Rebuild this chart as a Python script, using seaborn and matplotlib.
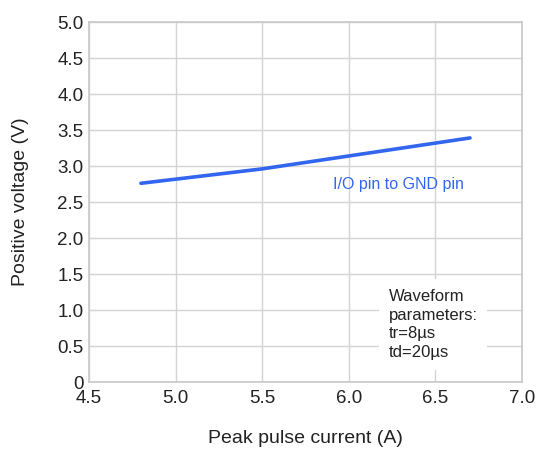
import matplotlib
matplotlib.use("Agg")
import matplotlib.pyplot as plt
import seaborn as sns
import pandas as pd

# values
current_a = [4.8, 5.5, 6.7]
voltage_v = [2.76, 2.96, 3.39]
x_ticks = [4.5, 5.0, 5.5, 6.0, 6.5, 7.0]
y_ticks = [0, 0.5, 1.0, 1.5, 2.0, 2.5, 3.0, 3.5, 4.0, 4.5, 5.0]
y_tick_labels = ["0", "0.5", "1.0", "1.5", "2.0", "2.5", "3.0", "3.5", "4.0", "4.5", "5.0"]

sns.set_style("whitegrid")
plt.rcParams["font.family"] = ["Liberation Sans", "DejaVu Sans"]

df = pd.DataFrame({"current": current_a, "voltage": voltage_v})

fig = plt.figure(figsize=(5.38, 4.49), dpi=100)
ax = fig.add_axes([0.1654, 0.1492, 0.8048, 0.8018])

sns.lineplot(data=df, x="current", y="voltage", ax=ax, color="#3366ee", linewidth=2.6)

ax.set_xlim(4.5, 7.0)
ax.set_ylim(0, 5.0)
ax.set_xticks(x_ticks)
ax.set_xticklabels([f"{v:.1f}" for v in x_ticks])
ax.set_yticks(y_ticks)
ax.set_yticklabels(y_tick_labels)
ax.tick_params(axis="both", length=0, labelsize=13.5, labelcolor="#222222", pad=4)
ax.tick_params(axis="x", pad=6)

ax.grid(True, color="#d4d4d4", linewidth=1)
for s in ax.spines.values():
    s.set_color("#c8c8c8")
    s.set_linewidth(1.2)

ax.set_xlabel("Peak pulse current (A)", fontsize=14, color="#222222", labelpad=16)
ax.set_ylabel("Positive voltage (V)", fontsize=14, color="#222222", labelpad=20)

ax.text(5.91, 2.75, "I/O pin to GND pin", color="#3366ee", fontsize=11.5, va="center", ha="left")

ax.text(6.23, 1.29, "Waveform\nparameters:\ntr=8\u00b5s\ntd=20\u00b5s", fontsize=12,
        color="#222222", va="top", ha="left", linespacing=1.3,
        bbox=dict(facecolor="white", edgecolor="none", pad=7))

fig.savefig("out.png", dpi=100)
